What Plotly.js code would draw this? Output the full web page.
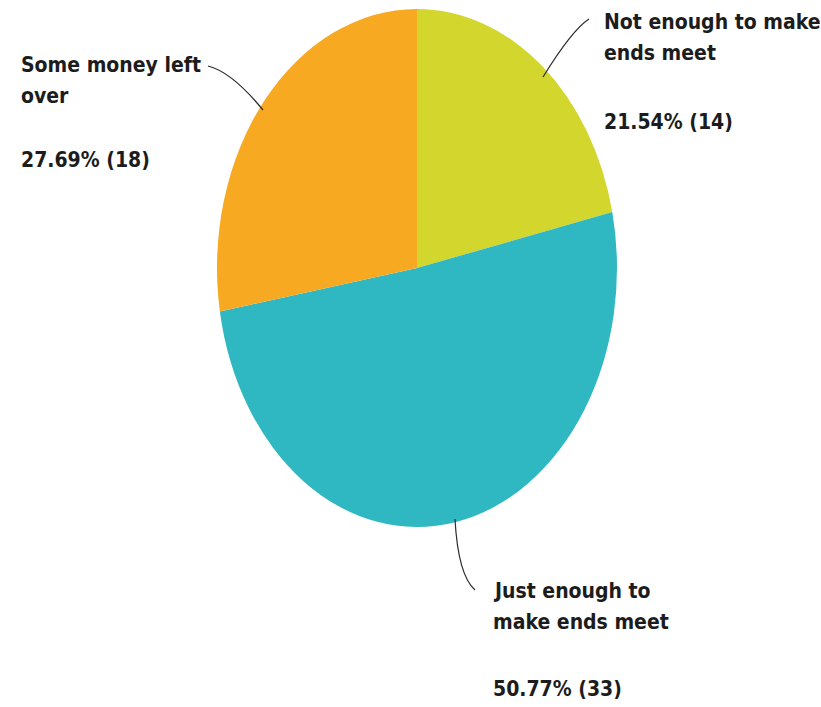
<!DOCTYPE html>
<html>
<head>
<meta charset="utf-8">
<script src="https://cdn.plot.ly/plotly-3.0.1.min.js"></script>
<style>html,body{margin:0;padding:0;background:#fff;}#chart{width:821px;height:707px;}</style>
</head>
<body>
<div id="chart"></div>
<script>
// Data
var categories = ["Not enough to make ends meet", "Just enough to make ends meet", "Some money left over"];
var labelLines = [["Not enough to make", "ends meet"], ["Just enough to", "make ends meet"], ["Some money left", "over"]];
var counts = [14, 33, 18];
var percents = [21.54, 50.77, 27.69];
var colors = ["#d3d62c", "#2fb8c1", "#f7a922"];

// Layout helpers (pixel -> paper)
var W = 821, H = 707;
function px(x){ return x / W; }
function py(y){ return 1 - y / H; }

var cx = 417, cy = 268, r = 200, stretch = 1.295;

var trace = {
  type: "pie",
  labels: categories,
  values: counts,
  sort: false,
  direction: "clockwise",
  rotation: 0,
  marker: {colors: colors, line: {width: 0}},
  textinfo: "none",
  hoverinfo: "none",
  showlegend: false,
  domain: {x: [px(cx - r), px(cx + r)], y: [py(cy + r), py(cy - r)]}
};

var fontFam = "'Liberation Sans Narrow', 'Arial Narrow', 'DejaVu Sans Condensed', sans-serif";
var textFont = {family: fontFam, size: 21, color: "#1c1c1c"};

// label placement (left x, first line center y, pct center y)
var labelPos = [
  {x: 602, y1: 22, yp: 122},
  {x: 491, y1: 591, yp: 689},
  {x: 19, y1: 65, yp: 160}
];
var lineGap = 31;

var annotations = [];
categories.forEach(function(c, i){
  var p = labelPos[i];
  labelLines[i].forEach(function(t, j){
    annotations.push({xref: "paper", yref: "paper", x: px(p.x), y: py(p.y1 + j * lineGap),
      xanchor: "left", yanchor: "middle", text: "<b>" + t + "</b>", showarrow: false, font: textFont});
  });
  annotations.push({xref: "paper", yref: "paper", x: px(p.x), y: py(p.yp),
    xanchor: "left", yanchor: "middle", text: "<b>" + percents[i].toFixed(2) + "% (" + counts[i] + ")</b>",
    showarrow: false, font: textFont});
});

// leader lines (pixel points)
var leaders = [
  [[589, 19], [572, 30], [543, 77]],
  [[455, 519], [458, 575], [475, 590]],
  [[208, 66], [232, 72], [263, 110]]
];
var shapes = leaders.map(function(L){
  return {type: "path", xref: "paper", yref: "paper",
    path: "M " + px(L[0][0]) + "," + py(L[0][1]) + " Q " + px(L[1][0]) + "," + py(L[1][1]) + " " + px(L[2][0]) + "," + py(L[2][1]),
    line: {color: "#2a2a2a", width: 1.2}};
});

var layout = {
  width: W, height: H,
  margin: {l: 0, r: 0, t: 0, b: 0},
  paper_bgcolor: "#ffffff",
  plot_bgcolor: "#ffffff",
  showlegend: false,
  annotations: annotations,
  shapes: shapes
};

Plotly.newPlot("chart", [trace], layout, {staticPlot: true, displayModeBar: false}).then(function(){
  var pl = document.querySelector(".pielayer");
  if (pl) pl.setAttribute("transform", "translate(0," + cy + ") scale(1," + stretch + ") translate(0," + (-cy) + ")");
});
</script>
</body>
</html>
